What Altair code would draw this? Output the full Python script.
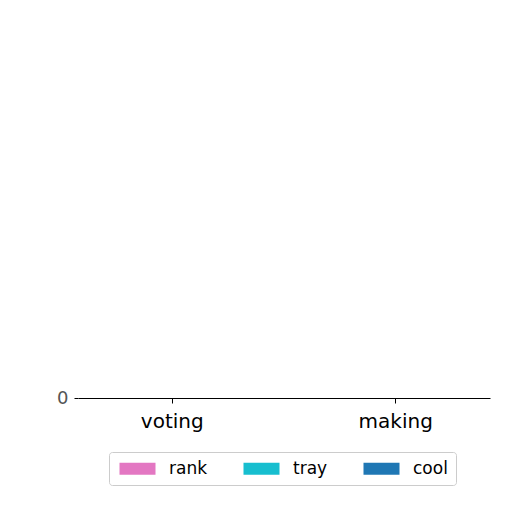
import altair as alt
import pandas as pd

categories = ["voting", "making"]
series = ["rank", "tray", "cool"]
colors = ["#e377c2", "#17becf", "#1f77b4"]
values = {
    "rank": [0, 0],
    "tray": [0, 0],
    "cool": [0, 0],
}

rows = []
for s in series:
    for c, v in zip(categories, values[s]):
        rows.append({"category": c, "series": s, "value": v})
df = pd.DataFrame(rows)

chart = alt.Chart(df).mark_bar().encode(
    x=alt.X("category:N", sort=categories, title=None,
            scale=alt.Scale(paddingInner=0.156, paddingOuter=0),
            axis=alt.Axis(labelAngle=0, labelFontSize=20, labelColor="#000000",
                          labelFont="DejaVu Sans", domainColor="#000000",
                          tickColor="#000000", tickSize=5, labelPadding=8)),
    xOffset=alt.XOffset("series:N", sort=series),
    y=alt.Y("value:Q", title=None,
            scale=alt.Scale(domain=[0, 1]),
            axis=alt.Axis(values=[0], domain=False, grid=False, labelFontSize=18,
                          labelColor="#555555", labelFont="DejaVu Sans",
                          tickColor="#000000", tickSize=4, labelPadding=6)),
    color=alt.Color("series:N", sort=series,
                    scale=alt.Scale(domain=series, range=colors),
                    legend=alt.Legend(title=None, orient="none", legendX=31, legendY=434,
                                      direction="horizontal",
                                      columns=3, columnPadding=33,
                                      symbolType="M-1,-1L5,-1L5,1L-1,1Z",
                                      symbolSize=144, symbolStrokeWidth=0,
                                      labelFontSize=17, labelFont="DejaVu Sans",
                                      labelColor="#000000", labelOffset=35,
                                      fillColor="white", strokeColor="#cccccc",
                                      padding=8, cornerRadius=3)),
).properties(
    width=412, height=380,
    padding={"left": 48, "top": 10, "right": 5, "bottom": 5},
).configure_view(stroke=None)

chart.save("out.html", embed_options={"renderer": "svg", "actions": False})
